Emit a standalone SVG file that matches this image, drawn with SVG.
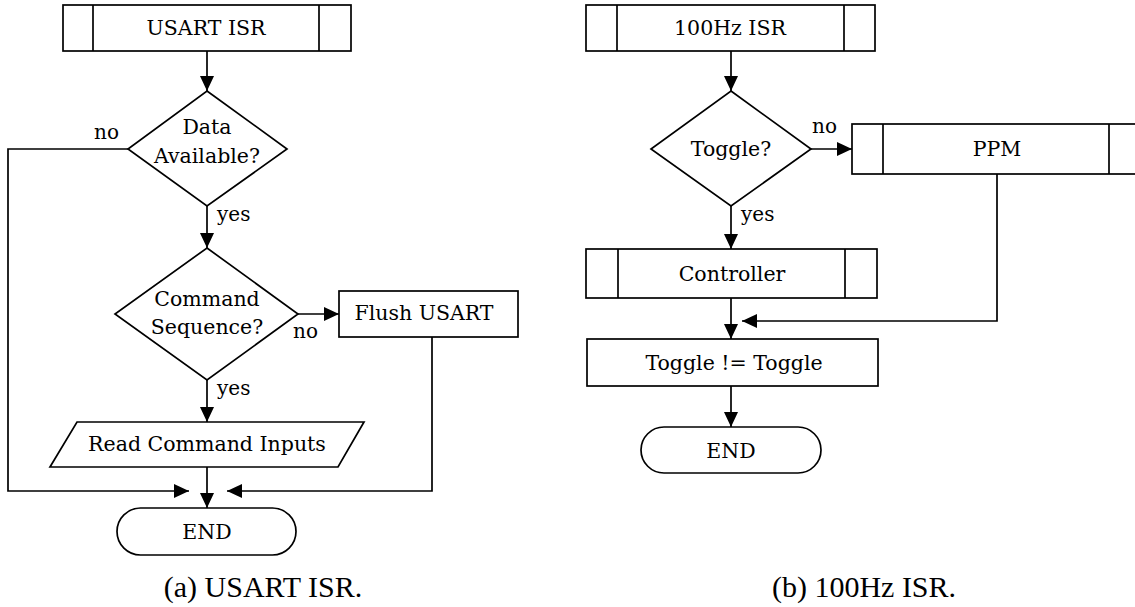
<svg xmlns="http://www.w3.org/2000/svg" width="1135" height="607" viewBox="0 0 1135 607">
<defs>
<marker id="arr" markerUnits="userSpaceOnUse" markerWidth="16" markerHeight="16" viewBox="0 0 16 16" refX="15" refY="8" orient="auto">
<path d="M0,1 L15,8 L0,15 Z" fill="#000"/>
</marker>
<style>
.s{fill:#fff;stroke:#000;stroke-width:1.7}
.l{fill:none;stroke:#000;stroke-width:1.7}
.t{font-family:"DejaVu Serif","Liberation Serif",serif;font-size:20.5px;fill:#000;text-anchor:middle}
.lb{font-family:"DejaVu Serif","Liberation Serif",serif;font-size:20px;fill:#000}
.c{font-family:"Liberation Serif","DejaVu Serif",serif;font-size:30px;fill:#000;text-anchor:middle}
</style>
</defs>
<rect width="1135" height="607" fill="#fff"/>
<g id="connectors">
<line class="l" x1="207" y1="51" x2="207" y2="91" marker-end="url(#arr)"/>
<line class="l" x1="207" y1="206" x2="207" y2="248" marker-end="url(#arr)"/>
<polyline class="l" points="128,149 8,149 8,491 189,491" marker-end="url(#arr)"/>
<line class="l" x1="298" y1="314" x2="339" y2="314" marker-end="url(#arr)"/>
<line class="l" x1="207" y1="380" x2="207" y2="422" marker-end="url(#arr)"/>
<polyline class="l" points="432,337 432,491 227,491" marker-end="url(#arr)"/>
<line class="l" x1="207" y1="467" x2="207" y2="508" marker-end="url(#arr)"/>
<line class="l" x1="731" y1="51" x2="731" y2="91" marker-end="url(#arr)"/>
<line class="l" x1="811" y1="149" x2="852" y2="149" marker-end="url(#arr)"/>
<line class="l" x1="731" y1="206" x2="731" y2="249" marker-end="url(#arr)"/>
<polyline class="l" points="997,174 997,321 742,321" marker-end="url(#arr)"/>
<line class="l" x1="731" y1="298" x2="731" y2="339" marker-end="url(#arr)"/>
<line class="l" x1="731" y1="386" x2="731" y2="427" marker-end="url(#arr)"/>
</g>
<g id="labels">
<text class="lb" x="94" y="139">no</text>
<text class="lb" x="217" y="221">yes</text>
<text class="lb" x="293" y="338">no</text>
<text class="lb" x="217" y="395">yes</text>
<text class="lb" x="812" y="133">no</text>
<text class="lb" x="741" y="221">yes</text>
</g>
<g id="usart-isr">
<rect class="s" x="63" y="5" width="288" height="46"/>
<line class="l" x1="93" y1="5" x2="93" y2="51"/>
<line class="l" x1="319" y1="5" x2="319" y2="51"/>
<text class="t" x="206" y="35">USART ISR</text>
</g>
<g id="data-available">
<polygon class="s" points="207,91 287,149 207,206 128,149"/>
<text class="t" x="207" y="134">Data</text>
<text class="t" x="207" y="163">Available?</text>
</g>
<g id="command-sequence">
<polygon class="s" points="207,248 298,314 207,380 115,314"/>
<text class="t" x="207" y="306">Command</text>
<text class="t" x="207" y="334">Sequence?</text>
</g>
<g id="flush-usart">
<rect class="s" x="339" y="291" width="179" height="46"/>
<text class="t" x="424" y="320">Flush USART</text>
</g>
<g id="read-command-inputs">
<polygon class="s" points="77,422 364,422 338,467 50,467"/>
<text class="t" x="207" y="451">Read Command Inputs</text>
</g>
<g id="end-a">
<rect class="s" x="117" y="508" width="179" height="47" rx="23.500"/>
<text class="t" x="207" y="539">END</text>
</g>
<g id="isr-100hz">
<rect class="s" x="586" y="5" width="289" height="46"/>
<line class="l" x1="617" y1="5" x2="617" y2="51"/>
<line class="l" x1="844" y1="5" x2="844" y2="51"/>
<text class="t" x="730" y="35">100Hz ISR</text>
</g>
<g id="toggle">
<polygon class="s" points="731,91 811,149 731,206 651,149"/>
<text class="t" x="731" y="156">Toggle?</text>
</g>
<g id="ppm">
<rect class="s" x="852" y="124" width="290" height="50"/>
<line class="l" x1="883" y1="124" x2="883" y2="174"/>
<line class="l" x1="1109" y1="124" x2="1109" y2="174"/>
<text class="t" x="997" y="156">PPM</text>
</g>
<g id="controller">
<rect class="s" x="586" y="249" width="291" height="49"/>
<line class="l" x1="618" y1="249" x2="618" y2="298"/>
<line class="l" x1="845" y1="249" x2="845" y2="298"/>
<text class="t" x="732" y="281">Controller</text>
</g>
<g id="toggle-not">
<rect class="s" x="587" y="339" width="291" height="47"/>
<text class="t" x="734" y="370">Toggle != Toggle</text>
</g>
<g id="end-b">
<rect class="s" x="641" y="427" width="180" height="46" rx="23"/>
<text class="t" x="731" y="458">END</text>
</g>
<g id="captions">
<text class="c" x="263" y="597">(a) USART ISR.</text>
<text class="c" x="864" y="597">(b) 100Hz ISR.</text>
</g>
</svg>
